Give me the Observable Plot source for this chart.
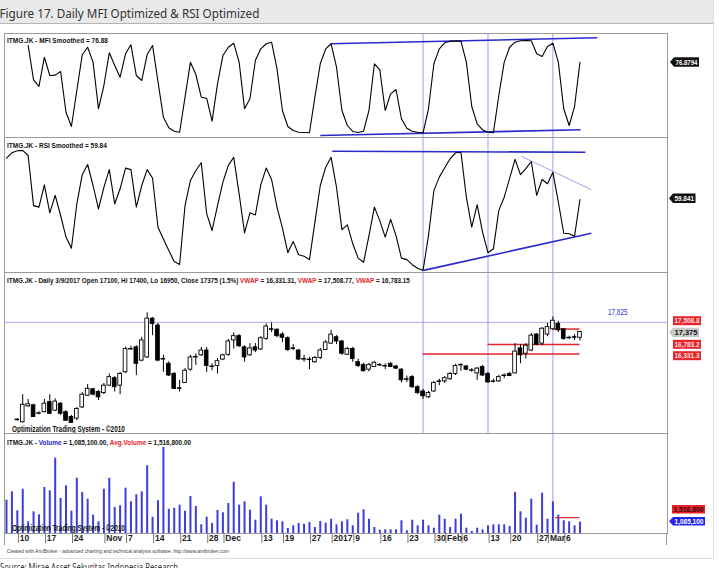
<!DOCTYPE html>
<html><head><meta charset="utf-8">
<script src="https://cdn.jsdelivr.net/npm/d3@7"></script>
<script src="https://cdn.jsdelivr.net/npm/@observablehq/plot@0.6"></script>
<style>
html,body{margin:0;padding:0;background:#fff;}
body{width:719px;height:568px;position:relative;overflow:hidden;}
svg.abs{position:absolute;left:0;}
</style></head><body>
<script>
// ---------- DATA ----------
// bar index 0 = 5 Oct 2016 ... 106 = 9 Mar 2017
const open = [null,null,13225,13125,13875,13925,13525,13600,14075,13675,
14000,13600,13375,13300,13825,14375,14675,14550,14500,14850,
15200,14850,15475,16575,16650,16025,16175,18000,17675,16100,
15875,15400,14725,14975,15600,16175,16275,16500,15750,15775,
16075,16300,16975,17175,16650,16275,16650,16550,17050,17500,
17475,17250,17075,16600,16500,16100,16075,15950,16150,16525,
16825,17125,16925,16300,16575,15950,15825,15600,15725,15825,
15775,15875,15750,15600,15150,15250,14775,14575,14300,14575,
15050,15050,15150,15400,15825,15750,15550,15425,15725,15400,
15025,15050,15325,15400,15425,16600,16350,16500,17250,16825,
17250,17500,17750,17500,17075,17125,17100];
const high = [null,null,13300,14425,14200,13975,13625,14200,14425,14225,
14050,13675,13450,13825,14525,14900,14725,14625,14950,15400,
15275,15475,16650,16700,16725,17125,18275,18050,17775,16275,
15975,15475,15100,15650,16275,16350,16650,16650,15875,16125,
16325,17025,17325,17250,16725,16825,16825,17150,17750,17800,
17525,17350,17150,16775,16550,16275,16175,16225,16600,16975,
17450,17200,16975,16650,16650,16100,15900,15900,15975,15875,
15875,15925,15800,15650,15300,15325,14850,14675,14575,15050,
15150,15275,15475,15850,15875,15800,15650,15700,15800,15475,
15150,15325,15400,15475,16825,16775,16825,17300,17300,17575,
17775,18075,17875,17525,17175,17250,17400];
const low = [null,null,13175,13100,13825,13350,13475,13575,13500,13625,
13450,13175,13075,13200,13775,14350,14375,14150,14425,14800,
14550,14425,15425,16500,15325,15975,16125,17200,15975,15475,
15275,14675,14550,14950,15525,15800,16225,15475,15550,15400,
16025,16225,16575,16650,15950,16225,16400,16500,16975,17350,
17100,16875,16450,16500,16025,15950,15600,15900,16075,16500,
16775,16775,16275,16275,15950,15700,15500,15500,15700,15750,
15600,15700,15600,14975,15000,14725,14425,14200,14250,14525,
14850,14950,15100,15325,15525,15550,15475,15100,15275,14950,
14975,15000,15175,15275,15400,15875,16100,16450,16725,16725,
17150,17450,17350,16975,17025,16975,16950];
const close = [null,null,13250,13950,13975,13375,13550,14000,13525,14100,
13525,13200,13100,13750,14425,14700,14425,14300,14850,15250,
14775,15400,16575,16550,15875,16975,18000,17750,16025,16075,
15325,14700,14700,15550,16175,16200,16500,15775,15725,16000,
16275,16925,17175,16700,16175,16600,16500,17075,17625,17475,
17175,17100,16525,16575,16075,16075,16050,16150,16500,16875,
17250,16925,16350,16575,16100,15775,15525,15825,15925,15800,
15750,15725,15650,15100,15125,14775,14500,14350,14500,14975,
15025,15200,15400,15775,15800,15600,15575,15650,15325,15000,
15050,15250,15300,15300,16450,16275,16725,17200,16775,17525,
17600,17900,17450,17050,17100,17100,17375];
const volume = [3200000,4000000,2180000,4250000,1120000,2080000,1800000,4420000,4100000,7230000,
3360000,4580000,2140000,5310000,3940000,3290000,1760000,1120000,4250000,5310000,
2500000,2660000,4350000,3040000,3720000,4000000,6500000,1560000,3140000,8260000,
2330000,2430000,2720000,2140000,3550000,2590000,835000,1560000,960000,2210000,
1990000,2880000,4920000,2720000,3040000,2240000,1280000,3520000,2720000,1370000,
1220000,1120000,480000,740000,960000,890000,1060000,580000,1150000,990000,
1370000,835000,1120000,1320000,740000,1950000,2280000,1370000,580000,320000,
355000,355000,355000,1220000,260000,1280000,740000,1280000,740000,510000,
1760000,1370000,580000,1370000,1850000,510000,190000,510000,355000,740000,
835000,835000,835000,670000,3940000,2080000,1470000,3290000,800000,3870000,
1370000,3040000,1760000,1220000,1120000,740000,1085100];
const mfi = [null,null,null,null,94.8,58.0,50.9,82.2,62.6,63.0,
66.9,23.3,8.0,46.6,84.8,92.9,76.9,27.0,51.9,86.9,
73.3,60.8,85.9,95.5,62.6,57.3,85.1,94.8,56.0,18.0,
6.6,3.0,1.9,39.4,76.9,63.7,39.4,38.3,13.7,53.7,
84.0,92.9,97.2,76.9,27.0,37.7,78.7,91.2,96.6,98.3,
69.8,25.2,8.0,3.7,1.9,1.6,1.3,39.4,75.2,91.2,
96.6,71.5,25.2,9.1,2.7,1.6,3.0,25.2,75.2,68.7,
25.2,43.0,47.6,16.3,6.2,3.0,1.9,1.3,27.0,75.2,
91.2,97.6,99.4,99.4,99.4,76.9,29.4,10.9,4.5,1.9,
1.3,41.2,76.9,92.9,98.3,99.8,100,99.8,85.9,83.0,
93.7,97.2,76.9,27.0,9.1,29.4,76.88];
const rsi = [73.6,75.4,76.1,76.2,74.5,57.8,57.3,64.7,55.4,61.2,
54.5,47.3,43.6,58.4,68.1,71.5,64.5,56.7,63.9,69.8,
58.4,63.4,70.3,69.8,57.3,64.5,69.8,66.9,50.6,46.7,
42.8,39.2,38.2,57.8,66.2,69.5,72.1,55.1,49.5,57.8,
65.6,71.2,73.9,61.7,48.7,55.4,54.7,64.7,70.3,66.5,
57.3,50.3,42.1,45.8,41.4,40.9,39.8,52.2,64.5,70.6,
73.9,63.9,49.8,51.4,45.1,40.3,38.9,47.8,57.3,52.8,
47.3,53.2,47.8,40.3,39.8,38.1,36.9,36.2,47.8,62.8,
67.3,70.4,73.4,75.4,75.6,60.6,50.6,58.1,48.9,42.1,
43.4,56.2,60.6,66.9,73.2,68.1,70.1,72.5,61.2,66.5,
65.1,68.9,59.0,48.6,48.4,47.6,59.84];
// drawn studies
const markerBars = [77, 89, 101];
const mfiTrend = [{x1:59.9,y1:96.6,x2:109.2,y2:103},{x1:58,y1:-1.6,x2:106.1,y2:4.5}];
const rsiTrend = [{x1:60.2,y1:75.9,x2:107,y2:75.6},{x1:77.1,y1:36.2,x2:108.1,y2:48.6}];
const rsiTrendThin = [{x1:95.2,y1:74.2,x2:108.1,y2:63.1}];
const RESIST = 17825;
const vwapLines = [{x1:77,x2:106,y:16331.3},{x1:89,x2:106,y:16783.2},{x1:101,x2:106,y:17508.8}];
const AVG_VOL = 1516800;
const tickBars = [3,8,13,19,23,28,33,38,41,48,52,57,61,65,70,75,80,82,85,90,94,99,101,104];
const tickLabels = ["10","17","24","Nov","7","14","21","28","Dec","13","19","27","2017","9","16","23","30","Feb","6","13","20","27","Mar","6"];

// ---------- CHART ----------
const F = "'Liberation Sans Narrow','Arial Narrow','Liberation Sans',Arial,sans-serif";
const X_DOMAIN = [-0.37, 122.18];
const bars = d3.range(107);
const VCOL = "#8282f4", RED = "#e3262b", FRAME = "#9a9a9a";
function panel(top, height, yDomain, marks, mb = 0) {
  const svg = Plot.plot({
    width: 719, height, marginLeft: 4, marginRight: 52, marginTop: 0, marginBottom: mb,
    x: {domain: X_DOMAIN, axis: null}, y: {domain: yDomain, axis: null},
    style: {background: "transparent", overflow: "visible", fontFamily: F},
    marks
  });
  svg.classList.add("abs");
  svg.style.top = top + "px";
  document.body.appendChild(svg);
}
// MFI
panel(33, 104, [-3.75, 107.6], [
  Plot.ruleX(markerBars, {stroke: VCOL, strokeWidth: 0.8}),
  Plot.link(mfiTrend, {x1:"x1",y1:"y1",x2:"x2",y2:"y2",stroke:"#2a2acc",strokeWidth:1.6}),
  Plot.line(bars, {x: d => d, y: d => mfi[d], stroke: "#000", strokeWidth: 1.1}),
  Plot.frame({stroke: FRAME})
]);
// RSI
panel(137, 135, [35.5, 80.5], [
  Plot.ruleX(markerBars, {stroke: VCOL, strokeWidth: 0.8}),
  Plot.link(rsiTrend, {x1:"x1",y1:"y1",x2:"x2",y2:"y2",stroke:"#2a2acc",strokeWidth:1.6}),
  Plot.link(rsiTrendThin, {x1:"x1",y1:"y1",x2:"x2",y2:"y2",stroke:"#a0a0ee",strokeWidth:1}),
  Plot.line(bars, {x: d => d, y: d => rsi[d], stroke: "#000", strokeWidth: 1.1}),
  Plot.frame({stroke: FRAME})
]);
// Price
const candles = bars.filter(i => open[i] != null).map(i => ({i, o: open[i], h: high[i], l: low[i], c: close[i]}));
const bw = 0.34;
panel(272, 161, [12600, 20167], [
  Plot.ruleY([RESIST], {stroke: "#aaaaf4", strokeWidth: 1}),
  Plot.ruleX(markerBars, {stroke: VCOL, strokeWidth: 0.8}),
  Plot.ruleY(vwapLines, {y: "y", x1: "x1", x2: "x2", stroke: RED, strokeWidth: 1.5}),
  Plot.ruleX(candles, {x: "i", y1: "l", y2: "h", stroke: "#000", strokeWidth: 1}),
  Plot.rect(candles.filter(d => d.c >= d.o), {x1: d => d.i - bw, x2: d => d.i + bw, y1: "o", y2: "c", fill: "#fff", stroke: "#000", strokeWidth: 0.9}),
  Plot.rect(candles.filter(d => d.c < d.o), {x1: d => d.i - bw, x2: d => d.i + bw, y1: "o", y2: "c", fill: "#000", stroke: "#000", strokeWidth: 0.9}),
  Plot.frame({stroke: FRAME})
]);
// Volume
panel(433, 112, [0, 9.6e6], [
  Plot.ruleX([101], {stroke: VCOL, strokeWidth: 0.8}),
  Plot.ruleX(bars, {x: d => d, y1: 0, y2: d => volume[d], stroke: "#3d3dd8", strokeWidth: 2}),
  Plot.ruleY([AVG_VOL], {x1: 101.5, x2: 106, stroke: RED, strokeWidth: 1.2}),
  Plot.frame({stroke: FRAME}),
  Plot.axisX(tickBars.map(b => b - 0.8), {tickSize: 10, tickFormat: () => "", stroke: "#777"}),
  Plot.text(tickBars, {x: d => d - 0.8, text: (d, i) => tickLabels[i], frameAnchor: "bottom", dy: 7.5, dx: 1.3,
    textAnchor: "start", fontSize: 8.5, fontWeight: "bold", fill: "#222"})
], 12);

// ---------- TEXT / DECORATION OVERLAY ----------
const ov = d3.select("body").append("svg").attr("class", "abs").attr("width", 719).attr("height", 568)
  .style("top", "0px").style("pointer-events", "none");
const defs = ov.append("defs");
defs.append("clipPath").attr("id", "cpP").append("rect").attr("x", 4).attr("y", 272).attr("width", 663).attr("height", 161);
defs.append("clipPath").attr("id", "cpV").append("rect").attr("x", 4).attr("y", 433).attr("width", 663).attr("height", 100);
// title bar and outer box
ov.append("rect").attr("x", 0).attr("y", 0).attr("width", 713).attr("height", 23.5).attr("fill", "#e9e9e9");
ov.append("line").attr("x1", 0).attr("x2", 713).attr("y1", 23.5).attr("y2", 23.5).attr("stroke", "#b4b4b4");
ov.append("path").attr("d", "M713.5,0V558.5H0").attr("fill", "none").attr("stroke", "#dedede");
ov.append("path").attr("d", "M4.5,533V545M666.5,533V545").attr("stroke", FRAME);

function txt(g, x, y, segs, o) {
  const t = g.append("text").attr("x", x).attr("y", y)
    .attr("font-family", o.font || F).attr("font-size", o.size || 8)
    .attr("font-weight", o.weight || "bold").attr("fill", o.fill || "#111")
    .style("white-space", "pre");
  if (o.anchor) t.attr("text-anchor", o.anchor);
  for (const [s, c] of segs) t.append("tspan").attr("fill", c || o.fill || "#111").text(s);
  if (o.width) {
    const len = t.node().getComputedTextLength();
    if (len > 0) {
      const k = o.width / len;
      t.attr("transform", `translate(${x},0) scale(${k},1) translate(${-x},0)`);
    }
  }
  return t;
}
const K = "#111", B = "#2424e0";
txt(ov, -0.5, 18.3, [["Figure 17. Daily MFI Optimized & RSI Optimized"]], {font: "'Noto Sans','Open Sans',sans-serif", size: 12.5, weight: "normal", fill: "#333", width: 260});
txt(ov, 7, 43.3, [["ITMG.JK - MFI Smoothed = 76.88"]], {width: 101});
txt(ov, 7, 147.7, [["ITMG.JK - RSI Smoothed = 59.84"]], {width: 100});
txt(ov, 7, 283.3, [["ITMG.JK - Daily 3/9/2017 Open 17100, Hi 17400, Lo 16950, Close 17375 (1.5%) ", K], ["VWAP", RED], [" = 16,331.31, ", K], ["VWAP", RED], [" = 17,508.77, ", K], ["VWAP", RED], [" = 16,783.15", K]], {width: 403});
txt(ov, 7, 445, [["ITMG.JK - ", K], ["Volume", B], [" = 1,085,100.00, ", K], ["Avg.Volume", RED], [" = 1,516,800.00", K]], {width: 184});
const gP = ov.append("g").attr("clip-path", "url(#cpP)");
txt(gP, 12, 432, [["Optimization Trading System - ©2010"]], {width: 113, size: 8.5});
const gV = ov.append("g").attr("clip-path", "url(#cpV)");
txt(gV, 12, 531.5, [["Optimization Trading System - ©2010"]], {width: 113, size: 8.5});
txt(ov, 608, 315, [["17,825"]], {fill: "#3030dd", weight: "normal", size: 8.5, width: 19.5});
txt(ov, 6.7, 552.7, [["Created with AmiBroker - advanced charting and technical analysis software. http://www.amibroker.com"]], {size: 5.5, weight: "normal", fill: "#444", width: 223});
txt(ov, 0, 571, [["Source: Mirae Asset Sekuritas Indonesia Research"]], {font: "'Noto Sans','Open Sans',sans-serif", size: 11, weight: "normal", fill: "#333", width: 178});

function tag(x0, yc, w, h, fill, color, s, arrow) {
  const a = arrow ? 4 : 0;
  const pts = arrow
    ? [[x0, yc], [x0 + a, yc - h / 2], [x0 + w, yc - h / 2], [x0 + w, yc + h / 2], [x0 + a, yc + h / 2]]
    : [[x0, yc - h / 2], [x0 + w, yc - h / 2], [x0 + w, yc + h / 2], [x0, yc + h / 2]];
  ov.append("polygon").attr("points", pts.map(p => p.join(",")).join(" ")).attr("fill", fill);
  txt(ov, x0 + a + (w - a) / 2, yc + 2.6, [[s, color]], {size: 7.5, anchor: "middle", width: w - a - 3});
}
tag(670, 62, 29, 9.5, "#111", "#fff", "76.8794", true);
tag(669, 198.3, 26.5, 9.5, "#111", "#fff", "59.841", true);
tag(673, 320.7, 28, 9, "#e8232a", "#ffe0e0", "17,508.8", false);
tag(669, 332.3, 30, 9.3, "#c9c9c9", "#111", "17,375", true);
tag(673, 344.3, 28, 9, "#e8232a", "#ffe0e0", "16,783.2", false);
tag(673, 355.7, 28, 9, "#e8232a", "#ffe0e0", "16,331.3", false);
tag(672, 509.2, 33, 8.5, "#e8232a", "#300", "1,516,800", false);
tag(669, 521.3, 36, 8.5, "#2424ee", "#fff", "1,085,100", true);
</script>
</body></html>
